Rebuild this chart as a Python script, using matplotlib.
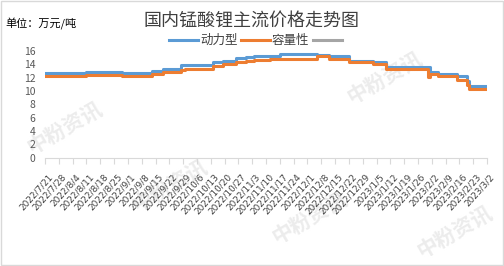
import matplotlib
matplotlib.use('Agg')
import matplotlib.pyplot as plt
import matplotlib.transforms as mtransforms
import pandas as pd

plt.rcParams['font.family'] = ['Noto Sans CJK SC', 'DejaVu Sans']

# price change points (万元/吨), held until the next change
power_dates = ['2022-07-21', '2022-08-11', '2022-08-29', '2022-09-13', '2022-09-19',
               '2022-09-28', '2022-09-30', '2022-10-14', '2022-10-19', '2022-10-26',
               '2022-10-31', '2022-11-04', '2022-11-17', '2022-12-06', '2022-12-12',
               '2022-12-22', '2023-01-03', '2023-01-10', '2023-02-01', '2023-02-05',
               '2023-02-15', '2023-02-20', '2023-02-21', '2023-03-02']
power_vals = [12.7, 12.85, 12.7, 13.05, 13.35,
              13.85, 13.95, 14.3, 14.55, 15.0,
              15.1, 15.2, 15.6, 15.35, 15.2,
              14.55, 14.3, 13.65, 12.8, 12.55,
              12.2, 11.45, 10.7, 10.7]

cap_dates = ['2022-07-21', '2022-08-11', '2022-08-29', '2022-09-13', '2022-09-19',
             '2022-09-28', '2022-09-30', '2022-10-14', '2022-10-19', '2022-10-26',
             '2022-10-31', '2022-11-04', '2022-11-12', '2022-12-06', '2022-12-12',
             '2022-12-22', '2023-01-03', '2023-01-10', '2023-01-31', '2023-02-01',
             '2023-02-05', '2023-02-15', '2023-02-20', '2023-02-21', '2023-03-02']
cap_vals = [12.3, 12.45, 12.3, 12.55, 12.8,
            13.1, 13.3, 13.8, 14.05, 14.35,
            14.55, 14.7, 14.8, 15.2, 14.85,
            14.35, 14.05, 13.3, 12.1, 12.5,
            12.3, 11.7, 10.95, 10.3, 10.3]

tick_labels = ['2022/7/21', '2022/7/28', '2022/8/4', '2022/8/11', '2022/8/18', '2022/8/25',
               '2022/9/1', '2022/9/8', '2022/9/15', '2022/9/22', '2022/9/29', '2022/10/6',
               '2022/10/13', '2022/10/20', '2022/10/27', '2022/11/3', '2022/11/10',
               '2022/11/17', '2022/11/24', '2022/12/1', '2022/12/8', '2022/12/15',
               '2022/12/22', '2022/12/29', '2023/1/5', '2023/1/12', '2023/1/19',
               '2023/1/26', '2023/2/2', '2023/2/9', '2023/2/16', '2023/2/23', '2023/3/2']

fig = plt.figure(figsize=(5.04, 2.66), dpi=100)

# faint "中粉资讯" watermarks (pixel centres in the 504x266 picture)
for wx, wy in [(65, 128), (385, 78), (170, 186), (310, 218), (455, 232)]:
    fig.text(wx/504, 1 - wy/266, '中粉资讯', rotation=30, ha='center', va='center',
             fontsize=15, color='#ececec', fontweight='bold', zorder=-1)

ax = fig.add_axes([45/504, 1 - 157.5/266, 442/504, 106.5/266])
ax.patch.set_alpha(0)

ax.plot(pd.to_datetime(power_dates), power_vals, drawstyle='steps-post',
        color='#5b9bd5', lw=2.2, label='动力型')
ax.plot(pd.to_datetime(cap_dates), cap_vals, drawstyle='steps-post',
        color='#ed7d31', lw=2.2, label='容量性')
ax.plot([], [], color='#a5a5a5', lw=2.2, label=' ')

ticks = pd.to_datetime(tick_labels, format='%Y/%m/%d')
ax.set_xlim(ticks[0], ticks[-1])
ax.set_xticks(ticks)
ax.set_xticklabels([])

# rotated date labels, shifted like the Excel original
offset = mtransforms.ScaledTranslation(6/100, -18/100, fig.dpi_scale_trans)
for t, s in zip(ticks, tick_labels):
    ax.text(t, 0, s, transform=ax.get_xaxis_transform() + offset,
            rotation=48, rotation_mode='anchor', ha='right', va='center',
            fontsize=6.4, color='#404040', family='DejaVu Sans', clip_on=False)

ax.set_ylim(0, 16)
ax.set_yticks(range(0, 17, 2))
ax.tick_params(axis='y', length=0, labelsize=7.5, labelcolor='#595959', pad=7)
ax.tick_params(axis='x', length=4, color='#d9d9d9', width=0.8, pad=2)

for s in ['top', 'right', 'left']:
    ax.spines[s].set_visible(False)
ax.spines['bottom'].set_color('#d9d9d9')
ax.spines['bottom'].set_linewidth(0.8)

fig.text(251.7/504, 1 - 21/266, '国内锰酸锂主流价格走势图', ha='center', va='center',
         fontsize=13, color='#404040')
fig.text(5/504, 1 - 23.5/266, '单位：万元/吨', ha='left', va='center',
         fontsize=8, color='#000000')

fig.legend(loc='center', bbox_to_anchor=(258/504, 1 - 40.7/266), ncol=3, frameon=False,
           fontsize=9, handlelength=2.3, handletextpad=0.15, columnspacing=0.3,
           labelcolor='#404040', borderpad=0, borderaxespad=0)

fig.patches.append(plt.Rectangle((0.001, 0.002), 0.997, 0.995, transform=fig.transFigure,
                                 fill=False, edgecolor='#d9d9d9', lw=1))

fig.savefig('out.png', dpi=100)
